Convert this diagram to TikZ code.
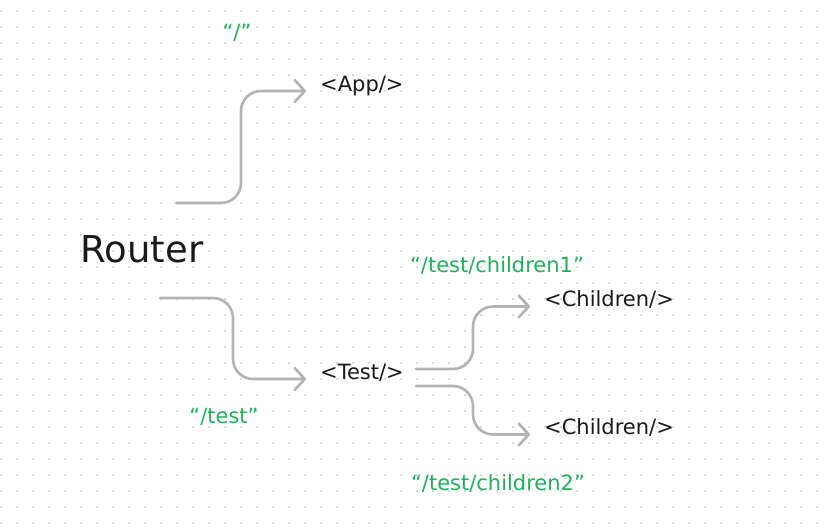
\documentclass[tikz,border=0pt]{standalone}
\usepackage{fontspec}
\setmainfont{DejaVu Sans}
\usetikzlibrary{arrows.meta,calc}
\definecolor{gris}{HTML}{B3B3B3}
\definecolor{verde}{RGB}{30,178,90}
\definecolor{texto}{HTML}{1A1A1A}
\definecolor{punto}{HTML}{DADADA}

\begin{document}
\begin{tikzpicture}[x=1pt,y=-1pt,
    flecha/.style={draw=gris, line width=2.6pt, line cap=round, rounded corners=20pt,
        -{Straight Barb[length=10pt,width=22pt,round]}},
    comp/.style={anchor=base west, inner xsep=14pt, text=texto,
        font=\fontsize{21}{25}\selectfont},
    ruta/.style={text=verde, font=\fontsize{21}{25}\selectfont}]

    % fondo con puntos
    \useasboundingbox (0,0) rectangle (827,530);
    \fill[white] (0,0) rectangle (827,530);
    \foreach \i in {0,...,51}
        \foreach \j in {0,...,32}
            \fill[punto] (16*\i+0.2,16*\j+10.2) rectangle ++(1.6,1.6);

    % componentes
    \node[text=texto, font=\fontsize{37}{44}\selectfont] (router) at (142,249) {Router};
    \node[comp] (app) at (306,91) {<App/>};
    \node[comp] (test) at (306,379) {<Test/>};
    \node[comp] (hijo1) at (530,306.5) {<Children/>};
    \node[comp] (hijo2) at (530,434.5) {<Children/>};

    % rutas
    \node[ruta] (raiz) at (237,33) {“/”};
    \node[ruta] (rtest) at (224,417) {“/test”};
    \node[ruta] (rhijo1) at (497,265) {“/test/children1”};
    \node[ruta] (rhijo2) at (498,483) {“/test/children2”};

    % inicios de las flechas
    \coordinate (s1) at (176,203);
    \coordinate (s2) at (160,298);
    \coordinate (s3) at (416,369);
    \coordinate (s4) at (416,386);

    % flechas
    \foreach \a/\b in {s1/app, s2/test, s3/hijo1, s4/hijo2} {
        \coordinate (m) at ($(\a)!.5!(\b.base west)$);
        \draw[flecha] (\a) -- (\a -| m) -- (m |- \b.base west) -- (\b.base west);
    }

\end{tikzpicture}
\end{document}
